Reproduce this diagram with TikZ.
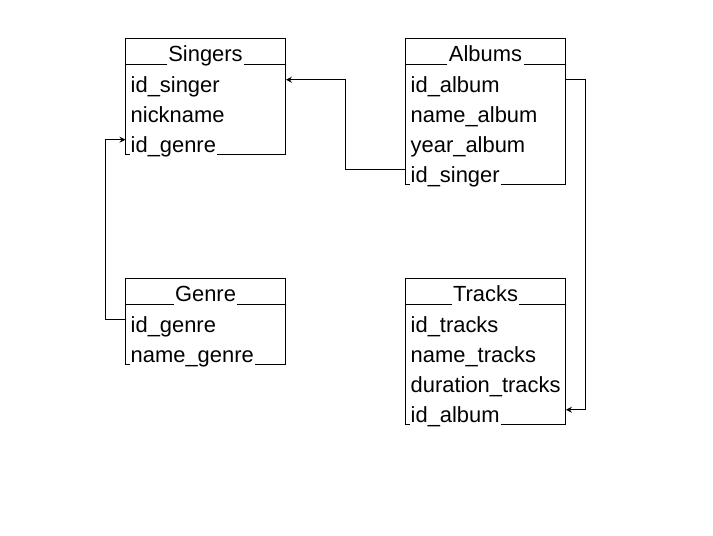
\documentclass[tikz,border=0pt]{standalone}
\usepackage{fontspec}
\setmainfont{Liberation Sans}
\usetikzlibrary{arrows.meta}
\tikzset{
  tbl/.style={minimum width=160bp, inner sep=0pt, anchor=north west},
  hrow/.style={minimum width=160bp, minimum height=26bp, inner sep=0pt, anchor=north west},
  frow/.style={minimum width=160bp, minimum height=30bp, inner sep=0pt, anchor=north west},
  txt/.style={fill=white, text height=16bp, text depth=5.5bp, inner ysep=0pt, font=\fontsize{22}{25}\selectfont},
  hdr/.style={txt, inner xsep=1.5bp, anchor=base},
  fld/.style={txt, inner xsep=1bp, anchor=base west},
  border/.style={line width=1bp, line cap=rect},
  lnk/.style={-{Stealth[length=6bp,width=6bp]}, line width=1bp}
}
\begin{document}
\begin{tikzpicture}[x=1bp, y=-1bp]
\useasboundingbox (-0.5,-0.5) rectangle (712.5,535.5);
% ---------- Singers ----------
\node[tbl, minimum height=116bp] (singers) at (125,38) {};
\node[hrow] (s-h) at (125,38) {};
\node[frow] (s-r1) at (125,64) {};
\node[frow] (s-r2) at (125,94) {};
\node[frow] (s-r3) at (125,124) {};
\draw[border] (s-h.south west) -- (s-h.south east);
\draw[border] (singers.south west) -- (singers.south east);
\node[hdr] (s-ht) at (205,61) {Singers};
\node[fld] (s-t1) at (129,92) {id\_singer};
\node[fld] (s-t2) at (129,122) {nickname};
\node[fld] (s-t3) at (129,152) {id\_genre};
% ---------- Albums ----------
\node[tbl, minimum height=146bp] (albums) at (405,38) {};
\node[hrow] (a-h) at (405,38) {};
\node[frow] (a-r1) at (405,64) {};
\node[frow] (a-r2) at (405,94) {};
\node[frow] (a-r3) at (405,124) {};
\node[frow] (a-r4) at (405,154) {};
\draw[border] (a-h.south west) -- (a-h.south east);
\draw[border] (albums.south west) -- (albums.south east);
\node[hdr] (a-ht) at (485,61) {Albums};
\node[fld] (a-t1) at (409,92) {id\_album};
\node[fld] (a-t2) at (409,122) {name\_album};
\node[fld] (a-t3) at (409,152) {year\_album};
\node[fld] (a-t4) at (409,182) {id\_singer};
% ---------- Genre ----------
\node[tbl, minimum height=86bp] (genre) at (125,278) {};
\node[hrow] (g-h) at (125,278) {};
\node[frow] (g-r1) at (125,304) {};
\node[frow] (g-r2) at (125,334) {};
\draw[border] (g-h.south west) -- (g-h.south east);
\draw[border] (genre.south west) -- (genre.south east);
\node[hdr] (g-ht) at (205,301) {Genre};
\node[fld] (g-t1) at (129,332) {id\_genre};
\node[fld] (g-t2) at (129,362) {name\_genre};
% ---------- Tracks ----------
\node[tbl, minimum height=146bp] (tracks) at (405,278) {};
\node[hrow] (t-h) at (405,278) {};
\node[frow] (t-r1) at (405,304) {};
\node[frow] (t-r2) at (405,334) {};
\node[frow] (t-r3) at (405,364) {};
\node[frow] (t-r4) at (405,394) {};
\draw[border] (t-h.south west) -- (t-h.south east);
\draw[border] (tracks.south west) -- (tracks.south east);
\node[hdr] (t-ht) at (485,301) {Tracks};
\node[fld] (t-t1) at (409,332) {id\_tracks};
\node[fld] (t-t2) at (409,362) {name\_tracks};
\node[fld] (t-t3) at (409,392) {duration\_tracks};
\node[fld] (t-t4) at (409,422) {id\_album};
% ---------- Outer borders (on top of the text backgrounds) ----------
\foreach \t in {singers, albums, genre, tracks} {
  \draw[border] (\t.north west) -- (\t.north east);
  \draw[border] (\t.north east) -- (\t.south east);
  \draw[border] (\t.north west) -- (\t.south west);
}
% ---------- Connectors ----------
\draw[lnk] (a-r4.west) -- ++(-60,0) |- (s-r1.east);
\draw[lnk] (g-r1.west) -- ++(-20,0) |- (s-r3.west);
\draw[lnk] (a-r1.east) -- ++(20,0) |- (t-r4.east);
\end{tikzpicture}
\end{document}
